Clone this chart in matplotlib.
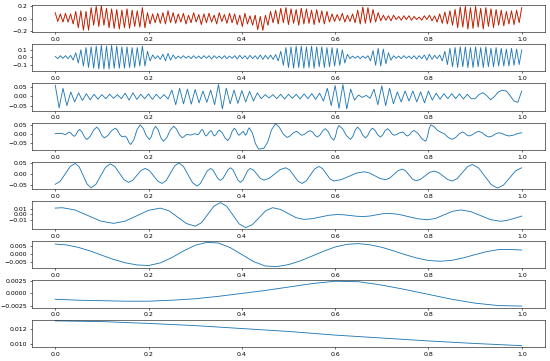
import numpy as np
import matplotlib
matplotlib.use("Agg")
import matplotlib.pyplot as plt

# ---------------- data ----------------
signal = [.10, -.04, .08, -.05, .09, -.05, .08,
          -.08, .12, -.14, .13, -.18, .12, -.18,
          .18, -.10, .20, -.12, .21, -.10, .17,
          -.14, .16, -.15, .15, -.16, .14, -.14, .16, -.15,
          .14, -.12, .13, -.13, .18, -.14, .10,
          -.08, .08, -.06, .09, -.07, .10, -.08, .13, -.06,
          .10, -.07, .08, -.05, .09, -.08, .06, -.06, .10, -.05, .07, -.09,
          .08, -.06, .09, -.05, .06, -.08, .10, -.04, .07, -.07, .09, -.06,
          .08, -.09, .06, -.12, .09, -.08, .05, -.10, .06, -.17, .04, -.18,
          .06, -.10, .12, -.06, .14,
          -.08, .17, -.06, .18, -.09, .16, -.07, .15, -.10, .17,
          -.08, .16, -.07, .14, -.09, .15, -.06, .13, -.08, .12,
          -.05, .08, -.04, .07, -.03, .09, -.05, .06, -.04, .08,
          -.06, .14, -.08, .19, -.07, .18, -.06, .15, -.05, .10,
          -.03, .06, -.02, .05, -.03, .06, -.01, .04, -.02, .05, -.01,
          .05, -.02, .04, -.01, .03, -.02, .05, -.01, .06, -.03, .05,
          -.05, .08, -.07, .11, -.08, .13, -.10, .15,
          -.14, .19, -.13, .20, -.16, .18, -.15, .20, -.13, .17,
          -.16, .18, -.12, .16, -.14, .15, -.10, .14, -.11, .12,
          -.08, .13, -.09, .14, -.06, .18]

imf1 = [.01, -.02, .02, -.015, .02, -.02, .025,
        -.04, .06, -.08, .10, -.12,
        .13, -.14, .14, -.15, .15, -.16, .16, -.16, .15, -.16, .16, -.15,
        .15, -.15, .14, -.15, .14, -.14, .13, -.14, .13, -.12, .15,
        -.12, .08, -.05, .03,
        -.02, .02, -.03, .04, -.05, .05, -.04, .03, -.02, .015, -.015, .02,
        -.015, .015, -.02, .02, -.015, .015, -.02, .02, -.015, .02, -.025, .02,
        -.015, .015, -.02, .02, -.02, .015, -.015, .02, -.025, .025, -.02, .02,
        -.025, .025, -.02, .02, -.025, .03, -.03, .025, -.025, .03, -.03, .035,
        -.05, .08, -.11, .13,
        -.14, .14, -.15, .15, -.14, .15, -.15, .14, -.14, .15, -.15,
        .14, -.13, .14, -.14, .13, -.13, .13, -.12, .12, -.11, .10,
        -.08, .04, -.02,
        .015, -.015, .015, -.02, .015, -.015, .02,
        -.05, .09, -.11, .12, -.12, .11, -.09, .06, -.04, .02,
        -.015, .015, -.02, .02, -.015, .015, -.02, .02, -.025,
        .02, -.02, .03, -.04, .04, -.03, .025, -.02, .03,
        -.05, .08, -.10, .12, -.13,
        .13, -.14, .14, -.13, .14, -.14, .13, -.14, .14, -.13, .13, -.14, .14,
        -.13, .12, -.13, .13, -.12, .12, -.12, .11, -.12, .12, -.11, .11, -.10, .10]

imf2 = [.062, -.062, .045, -.050, .025, -.030, .020, -.022, .015, -.018,
        .012, -.015, .010, -.012, .012, -.010, .010, -.012, .018, -.020,
        .020, -.016, .012, -.012, .014, -.016, .012, -.012, .010, -.014,
        .035, -.045, .045, -.040, .040, -.042, .038, -.035, .030, -.032,
        .035, -.045, .065, -.068, .045, -.040, .035, -.038, .032, -.030,
        .028, -.025, .020, -.012, .010, -.008, .010, -.012, .012, -.014,
        .012, -.010, .012, -.014, .014, -.012, .016, -.016, .018, -.025,
        .045, -.050, .060, -.065, .065, -.068, .040, -.020, .008, -.005,
        .006, -.010, .040, -.045, .058, -.050, .045, -.040, .025, -.030,
        .030, -.025, .030, -.030, .025, -.035, .030, -.020, .018, -.015,
        .015, -.012, .015, -.012, .014, -.014, .012, -.012, -.012, .010,
        .021, .005, -.018, .000, .025, .034, .030, .005, -.025, -.032, .030]

imf3_pts = [(0, .002), (.014, .004), (.0215, -.004), (.030, .011), (.0337, .005),
            (.0373, -.007), (.041, -.013), (.0447, -.0033), (.0483, .0163), (.052, .026),
            (.0573, .0118), (.0627, -.0168), (.068, -.031), (.075, -.0135), (.082, .0215),
            (.089, .039), (.0943, .0238), (.0997, -.0068), (.105, -.022), (.113, -.0083),
            (.121, .0193), (.129, .033), (.1337, .021), (.1383, -.003), (.143, -.015),
            (.150, -.012), (.154, -.0238), (.158, -.0473), (.162, -.059), (.1687, -.0313),
            (.1753, .0243), (.182, .052), (.1887, .0313), (.1953, -.0103), (.202, -.031),
            (.2063, -.0123), (.2107, .0253), (.215, .044), (.2207, .0228), (.2263, -.0198),
            (.232, -.041), (.2393, -.0198), (.2467, .0228), (.254, .044), (.260, .028),
            (.266, -.004), (.272, -.020), (.2757, -.0155), (.2793, -.0065), (.283, -.002),
            (.290, -.006), (.299, .002), (.306, -.004), (.309, .0035), (.312, .0185),
            (.315, .026), (.3177, .0168), (.3203, -.0018), (.323, -.011), (.3267, -.0035),
            (.3303, .0115), (.334, .019), (.3363, .0115), (.3387, -.0035), (.341, -.011),
            (.3447, -.0028), (.3483, .0138), (.352, .022), (.358, .0073), (.364, -.0223),
            (.370, -.037), (.3747, -.0195), (.3793, .0155), (.384, .033), (.3873, .023),
            (.3907, .003), (.394, -.007), (.403, .015), (.408, -.007), (.4107, .0035),
            (.4133, .0245), (.416, .035), (.4227, .005), (.4293, -.055), (.436, -.085),
            (.447, -.081), (.4553, -.0463), (.4637, .0233), (.472, .058), (.4803, .0388),
            (.4887, .0003), (.497, -.019), (.5037, -.0105), (.5103, .0065), (.517, .015),
            (.521, .0095), (.525, -.0015), (.529, -.007), (.535, -.0005), (.541, .0125),
            (.547, .019), (.552, .010), (.557, -.008), (.562, -.017), (.5677, -.0053),
            (.5733, .0183), (.579, .030), (.585, .0138), (.591, -.0188), (.597, -.035),
            (.6007, -.0143), (.6043, .0273), (.608, .048), (.6163, .0285), (.6247, -.0105),
            (.633, -.030), (.638, -.0128), (.643, .0218), (.648, .039), (.6537, .0238),
            (.6593, -.0068), (.665, -.022), (.670, -.0083), (.675, .0193), (.680, .033),
            (.6857, .0205), (.6913, -.0045), (.697, -.017), (.702, -.0053), (.707, .0183),
            (.712, .030), (.7167, .0208), (.7213, .0023), (.726, -.007), (.732, -.0025),
            (.738, .0065), (.744, .011), (.7477, .0055), (.7513, -.0055), (.755, -.011),
            (.7597, -.0033), (.7643, .0123), (.769, .020), (.7773, .0048), (.7857, -.0258),
            (.794, -.041), (.7977, -.0178), (.8013, .0288), (.805, .052), (.812, .0418),
            (.819, .0213), (.826, .011), (.8343, .0008), (.8427, -.0198), (.851, -.030),
            (.8583, -.0198), (.8657, .0008), (.873, .011), (.8777, .0055), (.8823, -.0055),
            (.887, -.011), (.894, -.0045), (.901, .0085), (.908, .015), (.9153, .007),
            (.9227, -.009), (.930, -.017), (.937, -.011), (.944, .001), (.951, .007),
            (.9583, .0025), (.9657, -.0065), (.973, -.011), (.982, -.0065), (.991, .0025),
            (1.0, .007)]

imf4_pts = [(0, -.045), (.01075, -.0311), (.0215, .0025), (.03225, .0361),
            (.043, .050), (.0515, .0337), (.060, -.0055), (.0685, -.0447),
            (.077, -.061), (.08725, -.045), (.0975, -.0065), (.10775, .032),
            (.118, .048), (.12775, .0357), (.1375, .006), (.14725, -.0237),
            (.157, -.036), (.166, -.0268), (.175, -.0045), (.184, .0178),
            (.193, .027), (.202, .017), (.211, -.007), (.220, -.031),
            (.229, -.041), (.238, -.0274), (.247, .0055), (.256, .0384),
            (.265, .052), (.27475, .0366), (.2845, -.0005), (.29425, -.0376),
            (.304, -.053), (.31125, -.0413), (.3185, -.013), (.32575, .0153),
            (.333, .027), (.33825, .0191), (.3435, 0), (.34875, -.0191),
            (.354, -.027), (.3595, -.0186), (.365, .0015), (.3705, .0216),
            (.376, .030), (.38125, .0203), (.3865, -.003), (.39175, -.0263),
            (.397, -.036), (.40225, -.0268), (.4075, -.0045), (.41275, .0178),
            (.418, .027), (.42525, .0192), (.4325, .0005), (.43975, -.0182),
            (.447, -.026), (.45875, -.0178), (.4705, .002), (.48225, .0218),
            (.494, .030), (.50275, .0196), (.5115, -.0055), (.52025, -.0306),
            (.529, -.041), (.538, -.0297), (.547, -.0025), (.556, .0247),
            (.565, .036), (.573, .0263), (.581, .003), (.589, -.0203),
            (.597, -.030), (.61325, -.0238), (.6295, -.009), (.64575, .0058),
            (.662, .012), (.6735, .0067), (.685, -.006), (.6965, -.0187),
            (.708, -.024), (.717, -.017), (.726, 0), (.735, .017),
            (.744, .024), (.75125, .0162), (.7585, -.0025), (.76575, -.0212),
            (.773, -.029), (.78275, -.0226), (.7925, -.007), (.80225, .0086),
            (.812, .015), (.82175, .0084), (.8315, -.0075), (.84125, -.0234),
            (.851, -.030), (.86175, -.019), (.8725, .0075), (.88325, .034),
            (.894, .045), (.9075, .0293), (.921, -.0085), (.9345, -.0463),
            (.948, -.062), (.961, -.0485), (.974, -.016), (.987, .0165),
            (1.0, .030)]

imf5_pts = [(0, .0108), (.015, .0115), (.0425, .0075), (.07, -.00225), (.0975, -.012),
            (.125, -.016), (.15, -.0121), (.175, -.0026), (.2, .0069),
            (.225, .0108), (.24375, .0061), (.2625, -.0051), (.28125, -.0163),
            (.30, -.021), (.3135, -.0149), (.327, -.00025), (.3405, .0144),
            (.354, .0205), (.3675, .0141), (.381, -.0015), (.3945, -.0171),
            (.408, -.0235), (.4225, -.0184), (.437, -.006), (.4515, .0064),
            (.466, .0115), (.48275, .0085), (.4995, .00125), (.51625, -.006),
            (.533, -.009), (.551, -.0078), (.569, -.00475), (.587, -.0017),
            (.605, -.0005), (.61875, -.001), (.6325, -.00225), (.64625, -.0035),
            (.66, -.004), (.67375, -.0032), (.6875, -.0012), (.70125, .0008),
            (.715, .0016), (.73575, -.0001), (.7565, -.00405), (.77725, -.008),
            (.798, -.0097), (.81575, -.0072), (.8335, -.00105), (.85125, .0051),
            (.869, .0076), (.8905, .0047), (.912, -.0024), (.9335, -.0095),
            (.955, -.0124), (.97, -.0105), (.985, -.007), (1.0, -.0032)]

imf6 = [.0065, .0059, .0043, .0020, -.0008, -.0035, -.0057, -.0071, -.0075, -.0058,
        -.0023, .0020, .0057, .0076, .0072, .0042, -.0003, -.0049, -.0078, -.0082,
        -.0069, -.0045, -.0014, .0018, .0046, .0063, .0068, .0060, .0044, .0021,
        -.0004, -.0026, -.0042, -.0047, -.0041, -.0025, -.0004, .0016, .0029, .0030,
        .0026]

imf7 = [-.0012, -.0014, -.0015, -.0016, -.0016, -.0014, -.0011, -.0006, .0000, .0006,
        .0013, .0020, .0025, .0024, .0017, .0008, -.0002, -.0012, -.0020, -.0025, -.0026]

residue = [.01315, .01305, .0128, .0125, .0121, .0117, .0112, .0108, .0104, .01005, .00975]

yticks = [[-0.2, 0.0, 0.2], [-0.1, 0.0, 0.1], [-0.05, 0.0, 0.05], [-0.05, 0.0, 0.05],
          [-0.05, 0.0, 0.05], [-0.01, 0.0, 0.01], [-0.005, 0.0, 0.005],
          [-0.0025, 0.0, 0.0025], [0.010, 0.012]]
ylims = [(-0.205, 0.23), (-0.19, 0.18), (-0.077, 0.072), (-0.09, 0.064), (-0.068, 0.056),
         (-0.0255, 0.0225), (-0.0092, 0.0086), (-0.0029, 0.0027), (0.00958, 0.01332)]

# ---------------- plot ----------------
plt.rcParams['font.family'] = ['DejaVu Sans']
plt.rcParams['font.size'] = 9

fig, axes = plt.subplots(9, 1, figsize=(11, 7.22), dpi=50)
fig.subplots_adjust(left=0.058, right=0.991, top=0.9875, bottom=0.039, hspace=0.443)

def uniform(vals):
    return np.linspace(0, 1, len(vals)), np.asarray(vals)

def knots(pts):
    a = np.asarray(pts)
    return a[:, 0], a[:, 1]

t, v = uniform(signal)
axes[0].plot(t, v, color='r', lw=1.3)
axes[0].plot(t, v, color='g', lw=0.7, alpha=0.45)

series = [uniform(imf1), uniform(imf2), knots(imf3_pts), knots(imf4_pts),
          knots(imf5_pts), uniform(imf6), uniform(imf7), uniform(residue)]
for ax, (t, v) in zip(axes[1:], series):
    ax.plot(t, v, color='C0', lw=1.25)

for ax, yt, yl in zip(axes, yticks, ylims):
    ax.set_xlim(-0.05, 1.05)
    ax.set_yticks(yt)
    ax.set_ylim(*yl)
    ax.set_xticks([0.0, 0.2, 0.4, 0.6, 0.8, 1.0])

fig.savefig("out.png", dpi=50)
